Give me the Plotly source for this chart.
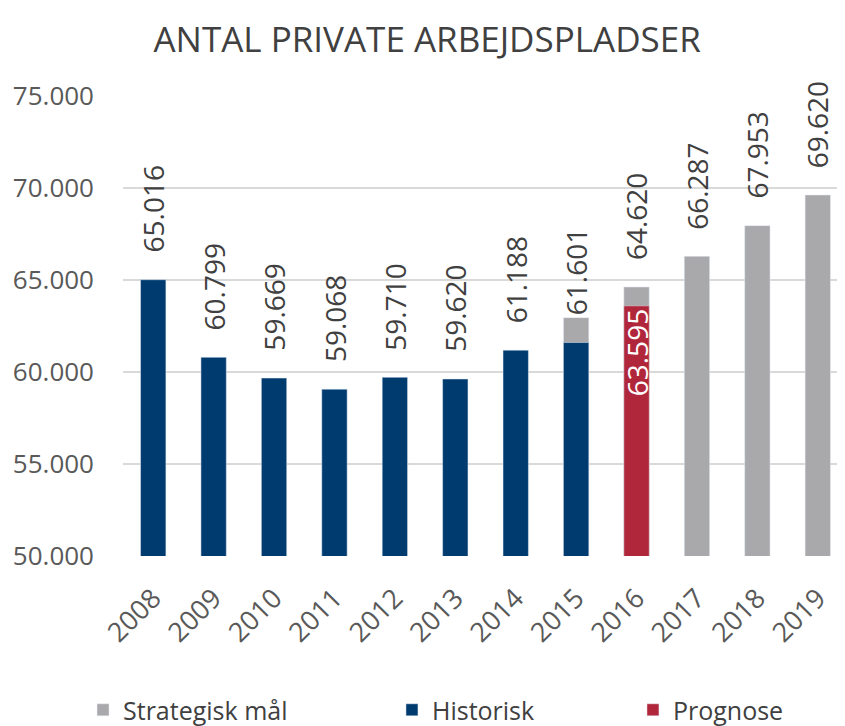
import plotly.graph_objects as go

years = ["2008", "2009", "2010", "2011", "2012", "2013", "2014", "2015", "2016", "2017", "2018", "2019"]
historisk = [65016, 60799, 59669, 59068, 59710, 59620, 61188, 61601, None, None, None, None]
prognose = [None, None, None, None, None, None, None, None, 63595, None, None, None]
strategisk = [None, None, None, None, None, None, None, 62953, 64620, 66287, 67953, 69620]

def fmt(v):
    return f"{v:,}".replace(",", ".")

FONT = "Open Sans"
LABEL_COLOR = "#404040"
W = 0.42

fig = go.Figure()
fig.add_trace(go.Bar(x=years, y=strategisk, name="Strategisk mål", marker_color="#A9A9AB", width=W,
                     legend="legend"))
fig.add_trace(go.Bar(x=years, y=historisk, name="Historisk", marker_color="#003B6F", width=W,
                     legend="legend2"))
fig.add_trace(go.Bar(
    x=years, y=prognose, name="Prognose", marker_color="#B0263A", width=W, legend="legend3",
    text=[fmt(p) if p is not None else "" for p in prognose],
    textposition="inside", insidetextanchor="end", textangle=-90, constraintext="none",
    textfont=dict(size=28, color="white", family=FONT),
))

# data labels: historisk values where present, otherwise strategisk values
for i, (h, s) in enumerate(zip(historisk, strategisk)):
    v = h if h is not None else s
    if v is None:
        continue
    fig.add_annotation(x=i, y=v, xref="x", yref="y", text=fmt(v), textangle=-90, showarrow=False,
                       xanchor="center", yanchor="bottom", yshift=25,
                       font=dict(size=28, color=LABEL_COLOR, family=FONT))

leg_common = dict(orientation="h", xref="container", yref="container", y=0.033, yanchor="middle",
                  font=dict(size=25, color="#404040", family=FONT), bgcolor="rgba(0,0,0,0)")

fig.update_layout(
    width=845, height=726,
    barmode="overlay",
    separators=",.",
    paper_bgcolor="white", plot_bgcolor="white",
    font=dict(family=FONT, color="#595959"),
    title=dict(text="ANTAL PRIVATE ARBEJDSPLADSER", x=0.496, xanchor="center", xref="container",
               y=0.956, yanchor="middle", yref="container",
               font=dict(size=35, color="#404040", family=FONT)),
    margin=dict(l=115, r=5, t=88, b=178, autoexpand=False),
    showlegend=True,
    legend=dict(x=0.0888, xanchor="left", **leg_common),
    legend2=dict(x=0.4544, xanchor="left", **leg_common),
    legend3=dict(x=0.7396, xanchor="left", **leg_common),
    xaxis=dict(type="category", range=[-0.5, 11.5], tickangle=-45, tickfont=dict(size=27, color="#595959"),
               showgrid=False, showline=False, ticks="", ticklabelstandoff=20, automargin=False),
    yaxis=dict(range=[50000, 75000], dtick=5000, tickformat=",d", showgrid=True, gridcolor="#D9D9D9",
               gridwidth=2, zeroline=False, tickfont=dict(size=26, color="#595959"), ticks="",
               ticklabelstandoff=28, automargin=False),
)

fig.write_html("out.html")
